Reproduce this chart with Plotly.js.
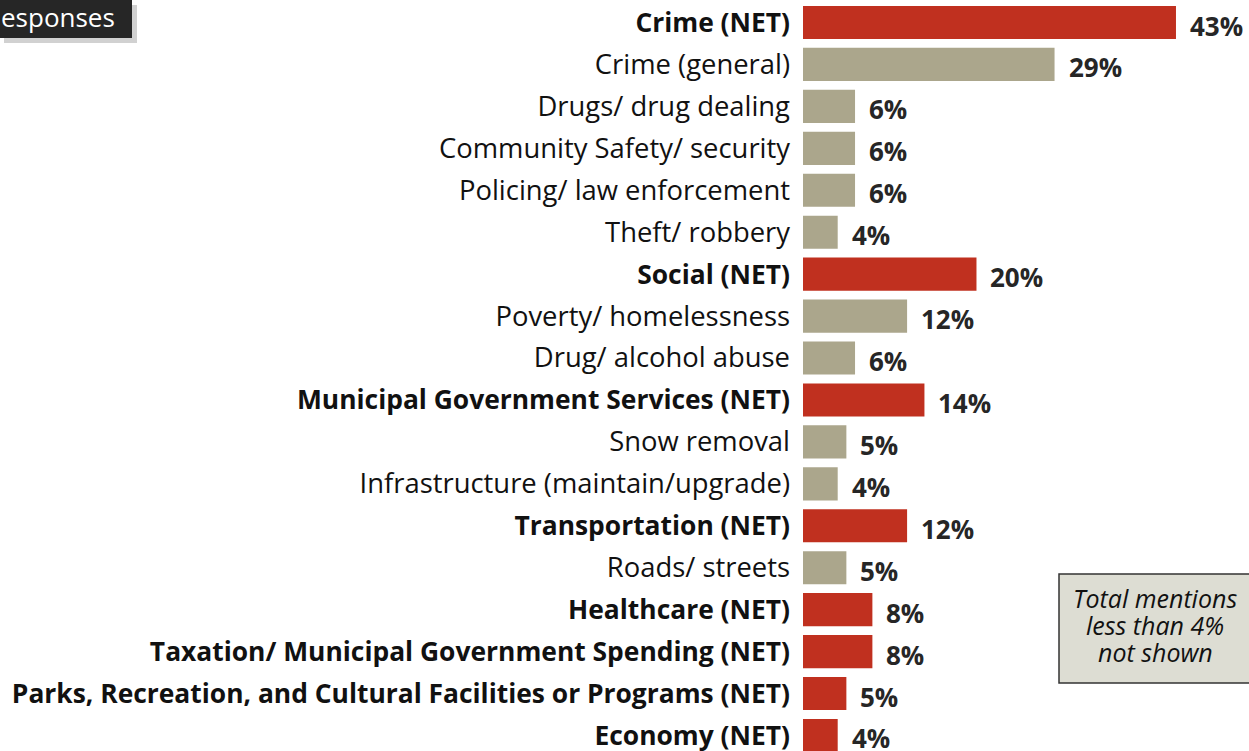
<!DOCTYPE html>
<html><head><meta charset="utf-8">
<script src="https://cdn.plot.ly/plotly-3.0.1.min.js"></script>
<style>html,body{margin:0;padding:0;background:#fff;}#chart{width:1249px;height:751px;}</style>
</head><body><div id="chart"></div>
<script>
const categories = [
  "Crime (NET)", "Crime (general)", "Drugs/ drug dealing", "Community Safety/ security",
  "Policing/ law enforcement", "Theft/ robbery", "Social (NET)", "Poverty/ homelessness",
  "Drug/ alcohol abuse", "Municipal Government Services (NET)", "Snow removal",
  "Infrastructure (maintain/upgrade)", "Transportation (NET)", "Roads/ streets",
  "Healthcare (NET)", "Taxation/ Municipal Government Spending (NET)",
  "Parks, Recreation, and Cultural Facilities or Programs (NET)", "Economy (NET)"
];
const values = [43, 29, 6, 6, 6, 4, 20, 12, 6, 14, 5, 4, 12, 5, 8, 8, 5, 4];
const isNet = [true, false, false, false, false, false, true, false, false, true, false, false, true, false, true, true, true, true];
const valueLabels = values.map(v => v + "%");
const headerText = "esponses";
const noteLines = ["Total mentions", "less than 4%", "not shown"];

const RED = "#C0301F", TAN = "#ABA68C";
const W = 1249, H = 751, L = 803;
const plotW = W - L;
const pxPerUnit = 8.674;
const xMax = plotW / pxPerUnit;
const rowH = 41.94, firstC = 22.5;
const yTop = -firstC / rowH, yBot = (H - firstC) / rowH;
const px = p => (p - L) / plotW;
const py = p => 1 - p / H;

const idx = categories.map((_, i) => i);
const trace = {
  type: "bar", orientation: "h",
  x: values, y: idx,
  marker: {color: isNet.map(n => n ? RED : TAN)},
  hoverinfo: "skip", cliponaxis: false
};

const annotations = values.map((v, i) => ({
  x: v, y: i, xref: "x", yref: "y", text: "<b>" + valueLabels[i] + "</b>",
  showarrow: false, xanchor: "left", xshift: 12, yshift: -3,
  font: {family: "Open Sans", size: 26, color: "#262626"}
}));
annotations.push({
  xref: "paper", yref: "paper", x: px(0), y: py(17), xanchor: "left", yanchor: "middle",
  text: headerText, showarrow: false, xshift: -1,
  font: {family: "Open Sans", size: 26, color: "#ffffff"}
});
const noteY = [598, 625, 652];
noteLines.forEach((t, k) => annotations.push({
  xref: "paper", yref: "paper", x: px(1155), y: py(noteY[k]), xanchor: "center", yanchor: "middle",
  text: "<i>" + t + "</i>", showarrow: false,
  font: {family: "Open Sans", size: 25, color: "#111111"}
}));

const shapes = [
  {type: "rect", xref: "paper", yref: "paper", x0: px(4), x1: px(137), y0: py(5), y1: py(43),
   fillcolor: "rgba(0,0,0,0.18)", line: {width: 0}, layer: "below"},
  {type: "rect", xref: "paper", yref: "paper", x0: px(-5), x1: px(132), y0: py(-5), y1: py(38),
   fillcolor: "#262626", line: {width: 0}, layer: "below"},
  {type: "rect", xref: "paper", yref: "paper", x0: px(1059), x1: px(1252), y0: py(574), y1: py(683),
   fillcolor: "#DDDDD3", line: {color: "#333333", width: 1.5}, layer: "below"}
];

const layout = {
  width: W, height: H,
  margin: {l: L, r: 0, t: 0, b: 0, pad: 0},
  paper_bgcolor: "#ffffff", plot_bgcolor: "rgba(0,0,0,0)",
  bargap: 0.21, showlegend: false,
  xaxis: {range: [0, xMax], visible: false, fixedrange: true},
  yaxis: {
    range: [yBot, yTop], tickmode: "array", tickvals: idx,
    ticktext: categories.map((c, i) => isNet[i]
      ? "<b><span style='font-size:26.4px'>" + c + "</span></b>"
      : "<span style='font-size:27.4px'>" + c + "</span>"),
    showgrid: false, zeroline: false, showline: false, ticks: "",
    ticklabelstandoff: 12, ticklabeloverflow: "allow",
    tickfont: {family: "Open Sans", size: 27, color: "#111111"}
  },
  annotations: annotations, shapes: shapes
};
Plotly.newPlot("chart", [trace], layout, {displayModeBar: false, staticPlot: true});
</script></body></html>
